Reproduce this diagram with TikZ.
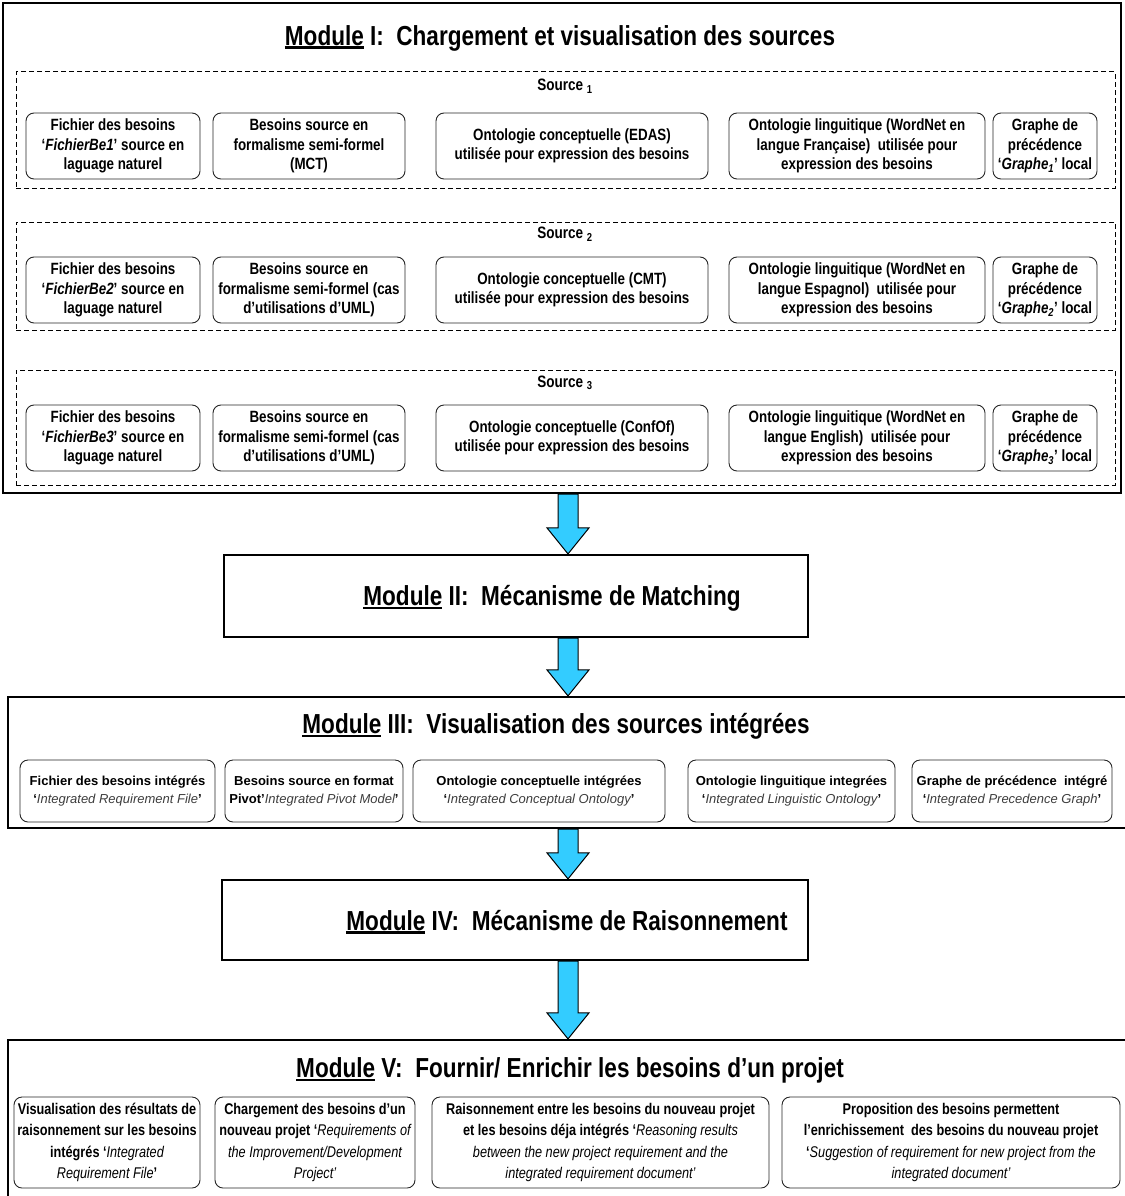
\documentclass[tikz,border=0pt]{standalone}
\usepackage{fontspec}
\setmainfont{Liberation Sans}
\newfontfamily\nar{Liberation Sans}[FakeStretch=0.82]
\usetikzlibrary{backgrounds,calc}
\newcommand\ulmod[1]{\setbox0\hbox{#1}\rlap{\rule[-4pt]{\wd0}{2.6pt}}\box0\relax}
\newcommand\itl[1]{{\mdseries\itshape #1}}
\definecolor{arrowblue}{RGB}{51,204,255}
\definecolor{itgray}{RGB}{60,60,60}
\tikzset{
  modbox/.style={draw, line width=2.2pt, inner sep=0pt},
  srcbox/.style={draw, dash pattern=on 5pt off 3pt, line width=1pt, inner sep=0pt},
  rbox/.style={draw=black!85, rounded corners=8pt, line width=0.9pt, align=center, inner sep=0pt,
     font=\nar\bfseries\fontsize{16.3}{19.5}\selectfont},
  ibox/.style={rbox, font=\bfseries\fontsize{13}{18.5}\selectfont},
  vbox/.style={rbox, font=\nar\bfseries\fontsize{15.5}{21.5}\selectfont},
  ttl/.style={font=\nar\bfseries\fontsize{27.5}{32}\selectfont, inner sep=0pt},
  srclbl/.style={font=\nar\bfseries\fontsize{16.5}{19}\selectfont, inner sep=0pt},
  arrowst/.style={fill=arrowblue, draw=black, line width=1pt, line join=miter},
}
\newcommand\blockarrow[2]{%
  \filldraw[arrowst] let \p0=(axis), \p1=(#1.south), \p2=(#2.north) in
   (\x0-10pt,\y1) -- (\x0+10pt,\y1) -- (\x0+10pt,\y2+26pt) -- (\x0+21pt,\y2+26pt)
   -- (\x0,\y2) -- (\x0-21pt,\y2+26pt) -- (\x0-10pt,\y2+26pt) -- cycle;}
\begin{document}
\begin{tikzpicture}[x=1pt,y=-1pt]
\useasboundingbox (0,0) rectangle (1124,1196);
\coordinate (axis) at (568,0);

% ---------------- Module I ----------------
\node[modbox, minimum width=1118, minimum height=490] (m1) at (562,248) {};
\node[ttl] (t1) at (560,38) {\ulmod{Module} I:~ Chargement et visualisation des sources};

% Source 1
\node[srcbox, minimum width=1099, minimum height=116] (s1) at (565.5,130) {};
\node[srclbl] (s1l) at (565,86) {Source \textsubscript{1}};
\node[rbox, minimum width=174, minimum height=66] (s1a) at (113,146) {Fichier des besoins\\‘\textit{FichierBe1}’ source en\\laguage naturel};
\node[rbox, minimum width=192, minimum height=66] (s1b) at (309,146) {Besoins source en\\formalisme semi-formel\\(MCT)};
\node[rbox, minimum width=272, minimum height=66] (s1c) at (572,146) {Ontologie conceptuelle (EDAS)\\utilisée pour expression des besoins};
\node[rbox, minimum width=256, minimum height=66] (s1d) at (857,146) {Ontologie linguitique (WordNet en\\langue Française)~ utilisée pour\\expression des besoins};
\node[rbox, minimum width=104, minimum height=66] (s1e) at (1045,146) {Graphe de\\précédence\\‘\textit{Graphe\textsubscript{1}}’ local};

% Source 2
\node[srcbox, minimum width=1099, minimum height=108] (s2) at (565.5,276) {};
\node[srclbl] (s2l) at (565,234) {Source \textsubscript{2}};
\node[rbox, minimum width=174, minimum height=66] (s2a) at (113,290) {Fichier des besoins\\‘\textit{FichierBe2}’ source en\\laguage naturel};
\node[rbox, minimum width=192, minimum height=66] (s2b) at (309,290) {Besoins source en\\formalisme semi-formel (cas\\d’utilisations d’UML)};
\node[rbox, minimum width=272, minimum height=66] (s2c) at (572,290) {Ontologie conceptuelle (CMT)\\utilisée pour expression des besoins};
\node[rbox, minimum width=256, minimum height=66] (s2d) at (857,290) {Ontologie linguitique (WordNet en\\langue Espagnol)~ utilisée pour\\expression des besoins};
\node[rbox, minimum width=104, minimum height=66] (s2e) at (1045,290) {Graphe de\\précédence\\‘\textit{Graphe\textsubscript{2}}’ local};

% Source 3
\node[srcbox, minimum width=1099, minimum height=115] (s3) at (565.5,427.5) {};
\node[srclbl] (s3l) at (565,383) {Source \textsubscript{3}};
\node[rbox, minimum width=174, minimum height=66] (s3a) at (113,438) {Fichier des besoins\\‘\textit{FichierBe3}’ source en\\laguage naturel};
\node[rbox, minimum width=192, minimum height=66] (s3b) at (309,438) {Besoins source en\\formalisme semi-formel (cas\\d’utilisations d’UML)};
\node[rbox, minimum width=272, minimum height=66] (s3c) at (572,438) {Ontologie conceptuelle (ConfOf)\\utilisée pour expression des besoins};
\node[rbox, minimum width=256, minimum height=66] (s3d) at (857,438) {Ontologie linguitique (WordNet en\\langue English)~ utilisée pour\\expression des besoins};
\node[rbox, minimum width=104, minimum height=66] (s3e) at (1045,438) {Graphe de\\précédence\\‘\textit{Graphe\textsubscript{3}}’ local};

% ---------------- Module II ----------------
\node[modbox, minimum width=584, minimum height=82] (m2) at (516,596) {};
\node[ttl] (t2) at (552,598) {\ulmod{Module} II:~ Mécanisme de Matching};

% ---------------- Module III ----------------
\node[modbox, minimum width=1122, minimum height=131] (m3) at (569,762.5) {};
\node[ttl] (t3) at (556,726) {\ulmod{Module} III:~ Visualisation des sources intégrées};
\node[ibox, minimum width=195, minimum height=62] (i1) at (117.5,791) {Fichier des besoins intégrés\\‘\itl{\color{itgray}Integrated Requirement File}’};
\node[ibox, minimum width=178, minimum height=62] (i2) at (314,791) {Besoins source en format\\Pivot’\itl{\color{itgray}Integrated Pivot Model}’};
\node[ibox, minimum width=252, minimum height=62] (i3) at (539,791) {Ontologie conceptuelle intégrées\\‘\itl{\color{itgray}Integrated Conceptual Ontology}’};
\node[ibox, minimum width=207, minimum height=62] (i4) at (791.5,791) {Ontologie linguitique integrées\\‘\itl{\color{itgray}Integrated Linguistic Ontology}’};
\node[ibox, minimum width=200, minimum height=62] (i5) at (1012,791) {Graphe de précédence~ intégré\\‘\itl{\color{itgray}Integrated Precedence Graph}’};

% ---------------- Module IV ----------------
\node[modbox, minimum width=586, minimum height=80] (m4) at (515,920) {};
\node[ttl] (t4) at (567,922) {\ulmod{Module} IV:~ Mécanisme de Raisonnement};

% ---------------- Module V ----------------
\node[modbox, minimum width=1122, minimum height=175] (m5) at (569,1127.5) {};
\node[ttl] (t5) at (570,1070) {\ulmod{Module} V:~ Fournir/ Enrichir les besoins d’un projet};
\node[vbox, minimum width=186, minimum height=91] (v1) at (107,1142.5) {Visualisation des résultats de\\raisonnement sur les besoins\\intégrés ‘\itl{Integrated}\\\itl{Requirement File}’};
\node[vbox, minimum width=200, minimum height=91] (v2) at (315,1142.5) {Chargement des besoins d’un\\nouveau projet ‘\itl{Requirements of}\\\itl{the Improvement/Development}\\\itl{Project’}};
\node[vbox, minimum width=337, minimum height=91] (v3) at (600.5,1142.5) {Raisonnement entre les besoins du nouveau projet\\et les besoins déja intégrés ‘\itl{Reasoning results}\\\itl{between the new project requirement and the}\\\itl{integrated requirement document’}};
\node[vbox, minimum width=338, minimum height=91] (v4) at (951,1142.5) {Proposition des besoins permettent\\l’enrichissement~ des besoins du nouveau projet\\‘\itl{Suggestion of requirement for new project from the}\\\itl{integrated document’}};

% ---------------- Arrows ----------------
\begin{scope}[on background layer]
\blockarrow{m1}{m2}
\blockarrow{m2}{m3}
\blockarrow{m3}{m4}
\blockarrow{m4}{m5}
\end{scope}
\end{tikzpicture}
\end{document}
